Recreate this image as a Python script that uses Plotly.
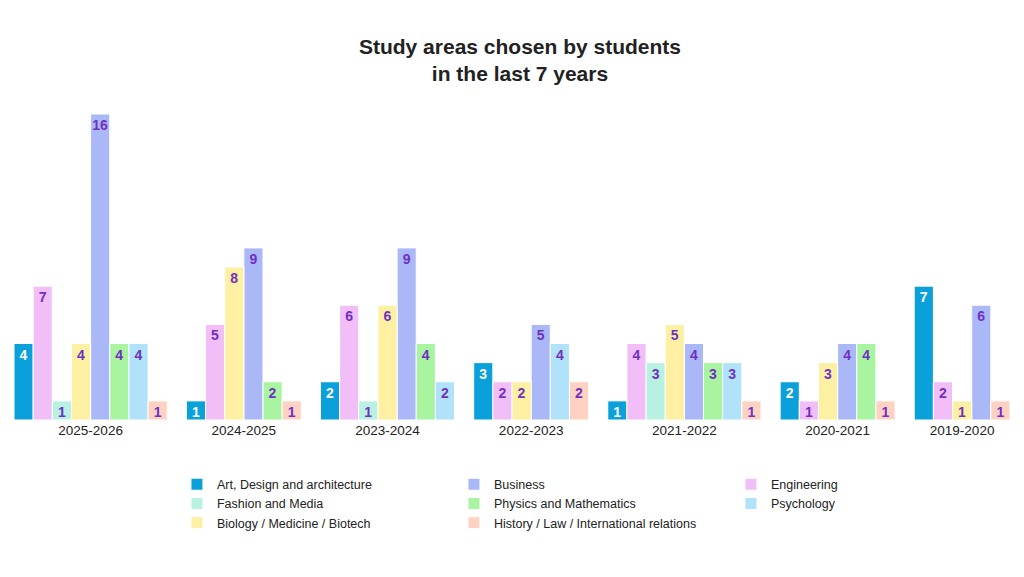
import plotly.graph_objects as go

years = ["2025-2026", "2024-2025", "2023-2024", "2022-2023", "2021-2022", "2020-2021", "2019-2020"]

# order of bars inside each group
bar_order = ["Art, Design and architecture", "Engineering", "Fashion and Media",
             "Biology / Medicine / Biotech", "Business", "Physics and Mathematics",
             "Psychology", "History / Law / International relations"]
# order of legend entries
legend_order = ["Art, Design and architecture", "Business", "Engineering",
                "Fashion and Media", "Physics and Mathematics", "Psychology",
                "Biology / Medicine / Biotech", "History / Law / International relations"]

art = [4, 1, 2, 3, 1, 2, 7]
engineering = [7, 5, 6, 2, 4, 1, 2]
fashion = [1, 0, 1, 0, 3, 0, 0]
biology = [4, 8, 6, 2, 5, 3, 1]
business = [16, 9, 9, 5, 4, 4, 6]
physics = [4, 2, 4, 0, 3, 4, 0]
psychology = [4, 0, 2, 4, 3, 0, 0]
history = [1, 1, 0, 2, 1, 1, 1]

values = {
    "Art, Design and architecture": art,
    "Engineering": engineering,
    "Fashion and Media": fashion,
    "Biology / Medicine / Biotech": biology,
    "Business": business,
    "Physics and Mathematics": physics,
    "Psychology": psychology,
    "History / Law / International relations": history,
}
colors = {
    "Art, Design and architecture": "#0aa0da",
    "Business": "#aab8f8",
    "Engineering": "#f2bef8",
    "Fashion and Media": "#b8f0e2",
    "Physics and Mathematics": "#a8f4a0",
    "Psychology": "#b0e2fa",
    "Biology / Medicine / Biotech": "#fdf0a2",
    "History / Law / International relations": "#fdd2c2",
}

# bars of zero are dropped, so groups get variable width
pos = {name: [] for name in bar_order}
centers = []
x = 0
for i in range(len(years)):
    start = x
    for name in bar_order:
        v = values[name][i]
        if v > 0:
            pos[name].append((x + 0.5, v))
            x += 1
    centers.append((start + x) / 2)
    x += 1
total = x - 1

fig = go.Figure()
for name in legend_order:
    pts = pos[name]
    fig.add_trace(go.Bar(
        x=[p[0] for p in pts], y=[p[1] for p in pts], name=name, width=1,
        marker=dict(color=colors[name], line=dict(color="white", width=1)),
        text=[p[1] for p in pts], textposition="inside", insidetextanchor="end",
        textangle=0, constraintext="none",
        textfont=dict(size=14, color="white" if name.startswith("Art") else "#7030c0",
                      family="Liberation Sans, Arial", weight="bold"),
    ))

fig.update_layout(
    width=1024, height=577,
    title=dict(text="<b>Study areas chosen by students<br>in the last 7 years</b>",
               x=0.5, y=0.92, xanchor="center",
               font=dict(size=21, color="#222", family="Liberation Sans, Arial")),
    plot_bgcolor="white", paper_bgcolor="white",
    margin=dict(l=6, r=22, t=106, b=165, autoexpand=False),
    barmode="overlay", showlegend=True,
    font=dict(family="Liberation Sans, Arial", color="#222"),
    legend=dict(orientation="h", xref="container", yref="container",
                x=0.165, y=0.2, xanchor="left", yanchor="top",
                entrywidth=232, font=dict(size=12.5)),
    xaxis=dict(range=[0, total], tickvals=centers, ticktext=years,
               showgrid=False, zeroline=False, tickfont=dict(size=13.5)),
    yaxis=dict(range=[0, 16], visible=False),
)

fig.write_html("out.html")
